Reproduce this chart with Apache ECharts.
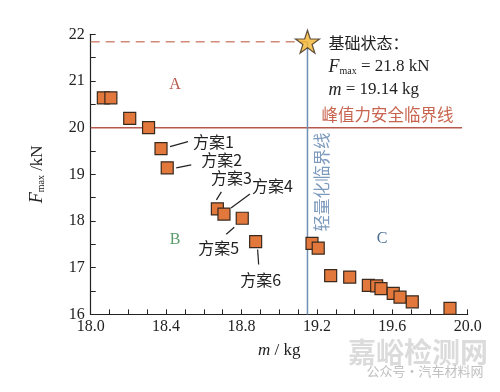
<!DOCTYPE html>
<html><head><meta charset="utf-8">
<script src="https://cdn.jsdelivr.net/npm/echarts@6/dist/echarts.min.js"></script>
<style>html,body{margin:0;padding:0;background:#fff}#c{width:500px;height:392px}</style>
</head><body><div id="c"></div>
<script>
// ---- data ----
const massKg  = [18.067,18.107,18.207,18.307,18.373,18.406,18.672,18.707,18.804,18.875,19.174,19.207,19.273,19.374,19.473,19.517,19.540,19.605,19.641,19.706,19.906];
const forceKN = [20.64,20.64,20.20,20.00,19.55,19.14,18.26,18.15,18.06,17.56,17.52,17.42,16.83,16.80,16.62,16.61,16.55,16.45,16.37,16.27,16.13];
const baseMass = 19.15;
const baseForce = 21.84;
const safeForce = 20;
const safeLineEndMass = 19.97;
const xRange = [18, 20];
const yRange = [16, 22];
const schemeNames = ['方案1','方案2','方案3','方案4','方案5','方案6'];
const schemeIndex = [4,5,6,7,8,9];

const serif = '"Liberation Serif","Times New Roman",serif';
const cjk = '"Noto Sans CJK SC",sans-serif';

const chart = echarts.init(document.getElementById('c'), null, {renderer:'canvas'});
const pts = massKg.map((m,i)=>[m, forceKN[i]]);
const starPath = 'path://M50,0 L61.2,34.5 L97.6,34.5 L68.2,55.9 L79.4,90.5 L50,69.1 L20.6,90.5 L31.8,55.9 L2.4,34.5 L38.8,34.5 Z';

chart.setOption({
  animation:false,
  grid:{left:90.7, right:32.3, top:34.3, bottom:77.6},
  xAxis:{
    type:'value', min:xRange[0], max:xRange[1], interval:0.4,
    axisLine:{show:true, lineStyle:{color:'#222', width:1.2}},
    axisTick:{show:true, inside:true, length:5, lineStyle:{color:'#222'}},
    minorTick:{show:true, splitNumber:4, length:5, lineStyle:{color:'#222'}},
    splitLine:{show:false},
    axisLabel:{color:'#222', fontFamily:serif, fontSize:16, margin:4, formatter:v=>v.toFixed(1)},
    name:'{i|m}{n| / kg}', nameLocation:'middle', nameGap:28,
    nameTextStyle:{rich:{i:{fontFamily:serif, fontStyle:'italic', fontSize:17, color:'#222'}, n:{fontFamily:serif, fontSize:17, color:'#222'}}}
  },
  yAxis:{
    type:'value', min:yRange[0], max:yRange[1], interval:1,
    axisLine:{show:true, lineStyle:{color:'#222', width:1.2}},
    axisTick:{show:true, inside:true, length:5, lineStyle:{color:'#222'}},
    minorTick:{show:true, splitNumber:2, length:5, lineStyle:{color:'#222'}},
    splitLine:{show:false},
    axisLabel:{color:'#222', fontFamily:serif, fontSize:16, margin:6},
    name:'{i|F}{s|max}{n| /kN}', nameLocation:'middle', nameGap:44,
    nameTextStyle:{rich:{i:{fontFamily:serif, fontStyle:'italic', fontSize:18, color:'#222'}, s:{fontFamily:serif, fontSize:10, color:'#222', padding:[8,0,0,0]}, n:{fontFamily:serif, fontSize:17, color:'#222'}}}
  },
  series:[
    {type:'line', data:[[xRange[0], safeForce],[safeLineEndMass, safeForce]], symbol:'none', z:1,
      lineStyle:{color:'#b55a4c', width:1.5}},
    {type:'line', data:[[xRange[0], baseForce],[baseMass, baseForce]], symbol:'none', z:1,
      lineStyle:{color:'#d28a78', width:1.5, type:[9,6]}},
    {type:'line', data:[[baseMass, baseForce],[baseMass, yRange[0]]], symbol:'none', z:1,
      lineStyle:{color:'#6f8fb3', width:1.5}},
    {type:'scatter', data:pts, symbol:'rect', symbolSize:12, z:3,
      itemStyle:{color:'#e3783c', borderColor:'#3a2a1e', borderWidth:1.2, opacity:1}},
    {type:'scatter', data:[[baseMass, baseForce]], symbol:starPath, symbolSize:[24,23], z:4,
      itemStyle:{color:'#f4b731', borderColor:'#3a2a1e', borderWidth:1.2}}
  ]
});

// annotations anchored to data points
const offs = [
  {line:[9,-2,27,-7], tx:32, ty:-7, align:'left'},
  {line:[9,0,24,-3], tx:34, ty:-8, align:'left'},
  {line:[-1,-9,4,-17], tx:14, ty:-31, align:'center'},
  {line:[7,-6,26,-20], tx:28, ty:-28, align:'left'},
  {line:[-16,16,-8,9], tx:-3, ty:30, align:'right'},
  {line:[2,8,3,23], tx:5, ty:38, align:'center'}
];
const g = [];
schemeIndex.forEach((idx,k)=>{
  const p = chart.convertToPixel({seriesIndex:3}, pts[idx]);
  const o = offs[k];
  g.push({type:'line', shape:{x1:p[0]+o.line[0], y1:p[1]+o.line[1], x2:p[0]+o.line[2], y2:p[1]+o.line[3]}, style:{stroke:'#222', lineWidth:1.2}, z:10});
  g.push({type:'text', x:p[0]+o.tx, y:p[1]+o.ty, style:{text:schemeNames[k], font:'16px '+cjk, fill:'#222', align:o.align, verticalAlign:'middle'}, z:10});
});
const sp = chart.convertToPixel({seriesIndex:4}, [baseMass, baseForce]);
const lp = chart.convertToPixel({seriesIndex:0}, [baseMass, safeForce]);
g.push({type:'text', x:sp[0]+21, y:sp[1]+1, style:{text:'基础状态：', font:'16px '+cjk, fill:'#222', verticalAlign:'middle'}});
g.push({type:'text', x:sp[0]+21, y:sp[1]+25, style:{text:'{i|F}{s|max}{n| = 21.8 kN}', verticalAlign:'middle',
  rich:{i:{fontFamily:serif, fontStyle:'italic', fontSize:18, fill:'#222'}, s:{fontFamily:serif, fontSize:10, fill:'#222', padding:[10,0,0,0]}, n:{fontFamily:serif, fontSize:17, fill:'#222'}}}});
g.push({type:'text', x:sp[0]+21, y:sp[1]+48, style:{text:'{i|m}{n| = 19.14 kg}', verticalAlign:'middle',
  rich:{i:{fontFamily:serif, fontStyle:'italic', fontSize:18, fill:'#222'}, n:{fontFamily:serif, fontSize:17, fill:'#222'}}}});
g.push({type:'text', x:sp[0]+14, y:lp[1]-13, style:{text:'峰值力安全临界线', font:'16.5px '+cjk, fill:'#c8654f', verticalAlign:'middle'}});
g.push({type:'text', x:lp[0]+14, y:182, rotation:Math.PI/2, style:{text:'轻量化临界线', font:'16.5px '+cjk, fill:'#7d9bbd', align:'center', verticalAlign:'middle'}});
// region letters
g.push({type:'text', x:175, y:85, style:{text:'A', font:'16px '+serif, fill:'#b8584a', align:'center', verticalAlign:'middle'}});
g.push({type:'text', x:175, y:240, style:{text:'B', font:'16px '+serif, fill:'#5b9c6b', align:'center', verticalAlign:'middle'}});
g.push({type:'text', x:382, y:239, style:{text:'C', font:'16px '+serif, fill:'#4c6f92', align:'center', verticalAlign:'middle'}});
// watermark
g.push({type:'text', x:418, y:352, style:{text:'嘉峪检测网', font:'bold 28px '+cjk, fill:'rgba(190,190,190,0.55)', align:'center', verticalAlign:'middle'}});
g.push({type:'text', x:425, y:371, style:{text:'公众号·汽车材料网', font:'13px '+cjk, fill:'rgba(150,150,150,0.6)', align:'center', verticalAlign:'middle'}});
chart.setOption({graphic:g});
</script>
</body></html>
